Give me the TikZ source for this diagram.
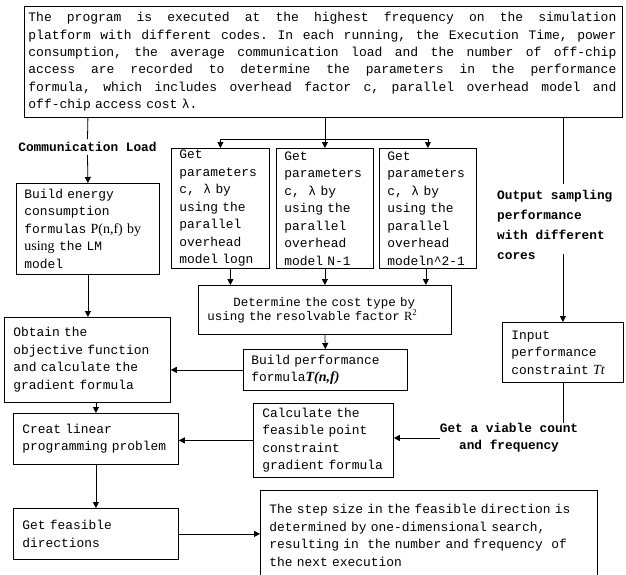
\documentclass[tikz,border=0pt]{standalone}
\usepackage{fontspec}
\newfontfamily\mono{Liberation Mono}
\newfontfamily\serifx{Liberation Serif}
\usetikzlibrary{arrows.meta}
\frenchspacing
\newcommand\bx{\mono\fontsize{12.9}{17.5}\selectfont\frenchspacing}
\newcommand\tp{\mono\fontsize{13}{17.4}\selectfont\frenchspacing}
\newcommand\dt{\mono\fontsize{12.5}{12.5}\selectfont\frenchspacing}
\newcommand\lb{\mono\bfseries\fontsize{12.8}{20}\selectfont}
\newcommand\lbb{\mono\bfseries\fontsize{12.8}{17}\selectfont}
\newcommand\sr{\serifx\fontsize{14}{17.5}\selectfont}
\newcommand\LS[1]{\leftskip=#1\relax}
\newcommand\jl[1]{\makebox[588pt][s]{\spaceskip=0.6em plus 1fil\relax #1}}
\begin{document}
\begin{tikzpicture}[x=1pt,y=-1pt,
  box/.style={draw, line width=0.8pt, anchor=north west, inner xsep=0pt, inner ysep=0pt, align=left, font=\bx},
  lab/.style={inner xsep=0pt, inner ysep=3pt},
  arr/.style={line width=0.8pt, -{Triangle[length=6pt,width=6pt]}},
  ln/.style={line width=0.8pt}]
\clip (0,0) rectangle (626,574);
\fill[white] (0,0) rectangle (626,574);

% boxes
\node[box, font=\tp, text width=598pt, minimum height=111pt] (top) at (24,6)
 {\LS{4pt}\jl{The program is executed at the highest frequency on the simulation}\\
  \jl{platform with different codes. In each running, the Execution Time, power}\\
  \jl{consumption, the average communication load and the number of off-chip}\\
  \jl{access are recorded to determine the parameters in the performance}\\
  \jl{formula, which includes overhead factor c, parallel overhead model and}\\
  off-chip access cost λ.\par};

\node[box, text width=143pt, minimum height=91pt] (be) at (16,183)
 {\LS{8pt}Build energy\\consumption\\formulas {\sr P(n,f) by}\\{\sr using} the LM\\model\par};

\node[box, text width=98pt, minimum height=120pt] (g1) at (171,148)
 {\LS{8pt}Get\\parameters\\c,\ \ λ by\\using the\\parallel\\overhead\\model logn\par};
\node[box, text width=97pt, minimum height=120pt] (g2) at (276,148)
 {\LS{8pt}Get\\parameters\\c,\ \ λ by\\using the\\parallel\\overhead\\model N-1\par};
\node[box, text width=97pt, minimum height=120pt] (g3) at (379,148)
 {\LS{8pt}Get\\parameters\\c,\ \ λ by\\using the\\parallel\\overhead\\modeln\textasciicircum 2-1\par};

\node[box, font=\dt, text width=253pt, minimum height=49pt] (det) at (198,285)
 {\LS{9pt}\hspace*{26pt}Determine the cost type by\\using the resolvable factor {\serifx R\textsuperscript{2}}\par};

\node[box, text width=164pt, minimum height=41pt] (bp) at (243,349)
 {\LS{8pt}Build performance\\formula{\sr\bfseries\itshape T(n,f)}\par};

\node[box, text width=166pt, minimum height=85pt] (ob) at (4,317)
 {\LS{9pt}Obtain the\\objective function\\and calculate the\\gradient formula\par};

\node[box, text width=165pt, minimum height=51pt] (cr) at (13,413)
 {\LS{9pt}Creat linear\\programming problem\par};

\node[box, text width=140pt, minimum height=74pt] (calc) at (253,403)
 {\LS{9pt}Calculate the\\feasible point\\constraint\\gradient formula\par};

\node[box, text width=165pt, minimum height=51pt] (gf) at (13,508)
 {\LS{9pt}Get feasible\\directions\par};

\node[box, text width=121pt, minimum height=60pt] (inp) at (502,322)
 {\LS{9pt}Input\\performance\\constraint {\sr\itshape Tt}\par};

\node[box, text width=337pt, minimum height=90pt] (st) at (260,490)
 {\LS{9pt}The step size in the feasible direction is\\determined by one-dimensional search,\\resulting in\ \ the number and frequency\ \ of\\the next execution\par};

% labels
\node[lab, font=\lb] (comm) at (87.5,147) {Communication Load};
\node[lab, font=\lb, align=left, anchor=west, inner ysep=0pt] (outl) at (497,225)
 {Output sampling\\performance\\with different\\cores};
\node[lab, font=\lbb, align=center, inner ysep=0pt] (gv) at (509,438)
 {Get a viable count\\and frequency};

% connectors
\draw[ln] (top.south -| be.north) -- (comm.north);
\draw[arr] (comm.south) -- (be.north);

\coordinate (hb) at (323,139);
\draw[arr] (top.south -| g2.north) -- (g2.north);
\draw[ln] (hb -| g1.north) -- (hb -| g3.north);
\draw[arr] (hb -| g1.north) -- (g1.north);
\draw[arr] (hb -| g3.north) -- (g3.north);

\coordinate (a1) at ([xshift=10pt]g1.south);
\coordinate (a3) at ([xshift=-2pt]g3.south);
\draw[arr] (a1) -- (a1 |- det.north);
\draw[arr] (g2.south) -- (g2.south |- det.north);
\draw[arr] (a3) -- (a3 |- det.north);

\draw[arr] (det.south) -- (bp.north);
\draw[arr] (bp.west) -- (bp.west -| ob.east);
\draw[arr] (be.south) -- (be.south |- ob.north);
\draw[arr] (cr.north |- ob.south) -- (cr.north);
\draw[arr] (calc.west) -- (calc.west -| cr.east);
\draw[arr] (cr.south) -- (gf.north);
\draw[arr] (gf.east) -- (gf.east -| st.west);

\coordinate (r1) at ([yshift=6pt]outl.north);
\coordinate (r2) at ([yshift=6pt]outl.south);
\draw[ln] (top.south -| inp.north) -- (r1 -| inp.north);
\draw[arr] (r2 -| inp.north) -- (inp.north);

\draw[ln] (inp.south) -- (inp.south |- gv.north);
\draw[arr] (gv.west) -- (gv.west -| calc.east);
\end{tikzpicture}
\end{document}
